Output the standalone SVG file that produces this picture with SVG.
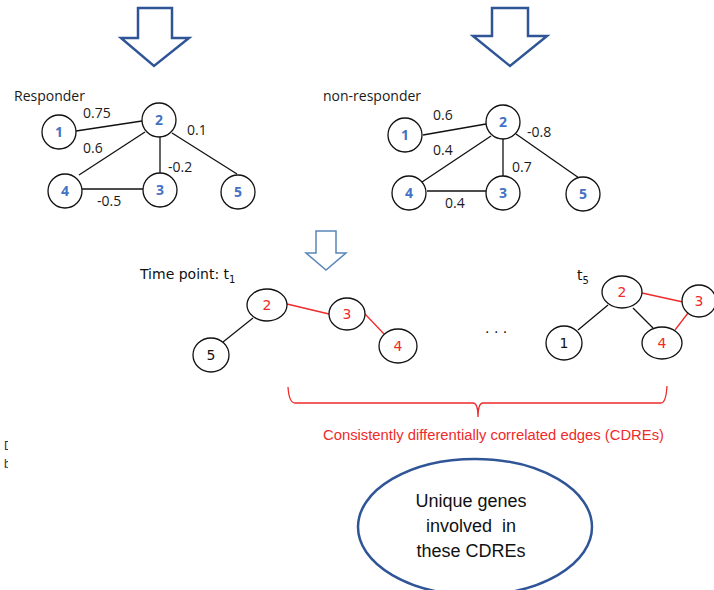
<svg xmlns="http://www.w3.org/2000/svg" width="714" height="590" viewBox="0 0 714 590">
<style>
.lbl{font-family:"Open Sans","Liberation Sans",sans-serif;font-size:14px;fill:#1a1a1a}
.nd{fill:#fff;stroke:#111;stroke-width:1.3}
.nt{font-family:"Open Sans","Liberation Sans",sans-serif;font-size:14px;font-weight:bold;fill:#4472C4;text-anchor:middle}
.vt{font-family:"DejaVu Sans",Verdana,sans-serif;font-size:14px;fill:#111}
.vn{font-family:"DejaVu Sans",Verdana,sans-serif;font-size:14px;text-anchor:middle}
.e{stroke:#111;stroke-width:1.3;fill:none}
.r{stroke:#EE2A2A;stroke-width:1.3;fill:none}
.big{fill:#fff;stroke:#2F5597;stroke-width:2.5}
</style>
<defs><clipPath id="cl"><rect x="0" y="0" width="8" height="590"/></clipPath></defs>
<rect width="714" height="590" fill="#fff"/>
<g id="arrows">
<polygon points="138,8 172,8 172,38 189,38 154,66 121,38 138,38" fill="#fff" stroke="#2F5597" stroke-width="2.5"/>
<polygon points="492,8 528,8 528,36 547,36 510,66 473,36 492,36" fill="#fff" stroke="#2F5597" stroke-width="2.5"/>
<polygon points="316,231 336,231 336,253 346,253 326,270 306,253 316,253" fill="#fff" stroke="#5B86B8" stroke-width="1.5"/>
</g>
<g id="connectors">
<line class="e" x1="76" y1="131" x2="142" y2="121"/>
<line class="e" x1="145" y1="132" x2="79" y2="175"/>
<line class="e" x1="160" y1="137" x2="160" y2="173"/>
<line class="e" x1="172" y1="133" x2="237" y2="174"/>
<line class="e" x1="82" y1="189" x2="143" y2="189"/>
<line class="e" x1="423" y1="135" x2="486" y2="124"/>
<line class="e" x1="491" y1="136" x2="422" y2="182"/>
<line class="e" x1="503" y1="139" x2="503" y2="176"/>
<line class="e" x1="516" y1="134" x2="579" y2="178"/>
<line class="e" x1="427" y1="191" x2="486" y2="191"/>
<line class="r" x1="287" y1="304" x2="329" y2="314"/>
<line class="r" x1="365" y1="314" x2="385" y2="335"/>
<line class="e" x1="253" y1="318" x2="223" y2="342"/>
<line class="e" x1="608" y1="305" x2="578" y2="330"/>
<line class="e" x1="633" y1="308" x2="653" y2="328"/>
<line class="r" x1="642" y1="293" x2="683" y2="302"/>
<line class="r" x1="688" y1="313" x2="675" y2="330"/>
</g>
<g id="responder">
<text class="lbl" x="14" y="101">Responder</text>
<text class="lbl" x="83" y="118">0.75</text>
<text class="lbl" x="83" y="153">0.6</text>
<text class="lbl" x="168" y="172">-0.2</text>
<text class="lbl" x="187" y="135">0.1</text>
<text class="lbl" x="97" y="206">-0.5</text>
</g>
<g id="r1"><circle class="nd" cx="59" cy="132" r="17"/><text class="nt" x="59" y="137">1</text></g>
<g id="r2"><circle class="nd" cx="159" cy="120" r="17"/><text class="nt" x="159" y="125">2</text></g>
<g id="r3"><circle class="nd" cx="160" cy="190" r="17"/><text class="nt" x="160" y="195">3</text></g>
<g id="r4"><circle class="nd" cx="65" cy="191" r="17"/><text class="nt" x="65" y="196">4</text></g>
<g id="r5"><circle class="nd" cx="238" cy="192" r="17"/><text class="nt" x="238" y="197">5</text></g>
<g id="nonresponder">
<text class="lbl" x="323" y="101">non-responder</text>
<text class="lbl" x="433" y="120">0.6</text>
<text class="lbl" x="433" y="155">0.4</text>
<text class="lbl" x="527" y="137">-0.8</text>
<text class="lbl" x="512" y="172">0.7</text>
<text class="lbl" x="445" y="208">0.4</text>
</g>
<g id="n1"><circle class="nd" cx="405" cy="135" r="17"/><text class="nt" x="405" y="140">1</text></g>
<g id="n2"><circle class="nd" cx="503" cy="122" r="17"/><text class="nt" x="503" y="127">2</text></g>
<g id="n3"><circle class="nd" cx="503" cy="193" r="17"/><text class="nt" x="503" y="198">3</text></g>
<g id="n4"><circle class="nd" cx="409" cy="193" r="17"/><text class="nt" x="409" y="198">4</text></g>
<g id="n5"><circle class="nd" cx="583" cy="194" r="17"/><text class="nt" x="583" y="199">5</text></g>
<g id="t1label"><text class="vt" x="140" y="279">Time point: t<tspan font-size="10" dy="4">1</tspan></text></g>
<g id="a2"><ellipse class="nd" cx="267" cy="305" rx="20" ry="16"/><text class="vn" x="267" y="310" fill="#EE2A2A">2</text></g>
<g id="a3"><ellipse class="nd" cx="347" cy="314" rx="18" ry="16"/><text class="vn" x="347" y="319" fill="#EE2A2A">3</text></g>
<g id="a4"><ellipse class="nd" cx="398" cy="346" rx="19" ry="17"/><text class="vn" x="398" y="351" fill="#EE2A2A">4</text></g>
<g id="a5"><ellipse class="nd" cx="211" cy="355" rx="18" ry="17"/><text class="vn" x="211" y="360" fill="#111">5</text></g>
<g id="dots"><text class="vt" x="485" y="333" font-family="Liberation Sans" font-size="16">. . .</text></g>
<g id="t5label"><text class="vt" x="577" y="280">t<tspan font-size="10" dy="4">5</tspan></text></g>
<g id="b2"><ellipse class="nd" cx="622" cy="292" rx="20" ry="16"/><text class="vn" x="622" y="297" fill="#EE2A2A">2</text></g>
<g id="b3"><ellipse class="nd" cx="699" cy="301" rx="17" ry="16"/><text class="vn" x="699" y="306" fill="#EE2A2A">3</text></g>
<g id="b1"><ellipse class="nd" cx="564" cy="343" rx="18" ry="17"/><text class="vn" x="564" y="348" fill="#111">1</text></g>
<g id="b4"><ellipse class="nd" cx="662" cy="343" rx="20" ry="16"/><text class="vn" x="662" y="348" fill="#EE2A2A">4</text></g>
<g id="brace">
<path d="M288,387 Q289,403 295,403 L473,403 Q478,403 478,417 Q478,403 483,403 L661,403 Q666,403 667,386" fill="none" stroke="#EE2A2A" stroke-width="1.3"/>
<text x="323" y="440" font-family="Liberation Sans,sans-serif" font-size="14" fill="#EE2A2A" textLength="341" lengthAdjust="spacingAndGlyphs">Consistently differentially correlated edges (CDREs)</text>
</g>
<g id="clipped" clip-path="url(#cl)" font-family="Liberation Sans,sans-serif" font-size="12" fill="#333">
<text x="4" y="450">D</text>
<text x="4" y="468">b</text>
</g>
<g id="unique">
<ellipse class="big" cx="475" cy="527" rx="117" ry="68"/>
<g font-family="Liberation Sans,sans-serif" font-size="18" fill="#111" text-anchor="middle">
<text x="471" y="507">Unique genes</text>
<text x="471" y="532">involved&#160; in</text>
<text x="471" y="557">these CDREs</text>
</g>
</g>
</svg>
